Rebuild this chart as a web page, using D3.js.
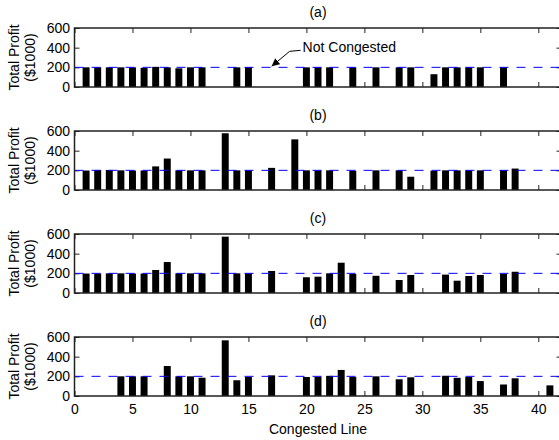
<!DOCTYPE html>
<html>
<head>
<meta charset="utf-8">
<script src="https://cdn.jsdelivr.net/npm/d3@7"></script>
<style>
  body { margin: 0; background: #fff; }
  svg text { font-family: "Liberation Sans", Arial, sans-serif; }
</style>
</head>
<body>
<div id="chart"></div>
<script>
// Congested line index -> total profit ($1000) for each scenario
const panelNames = ["(a)", "(b)", "(c)", "(d)"];

const linesA = [1, 2, 3, 4, 5, 6, 7, 8, 9, 10, 11, 14, 15, 20, 21, 22, 24, 26, 28, 29, 31, 32, 33, 34, 35, 37];
const profitA = [200, 200, 200, 200, 200, 195, 205, 200, 190, 200, 200, 200, 200, 200, 200, 200, 200, 200, 200, 200, 130, 200, 200, 200, 200, 200];

const linesB = [1, 2, 3, 4, 5, 6, 7, 8, 9, 10, 11, 13, 14, 15, 17, 19, 20, 21, 22, 24, 26, 28, 29, 31, 32, 33, 34, 35, 37, 38];
const profitB = [198, 204, 204, 200, 198, 198, 240, 320, 200, 200, 200, 577, 200, 200, 225, 515, 200, 200, 200, 195, 200, 200, 135, 195, 200, 200, 200, 200, 200, 218];

const linesC = [1, 2, 3, 4, 5, 6, 7, 8, 9, 10, 11, 13, 14, 15, 17, 20, 21, 22, 23, 24, 26, 28, 29, 32, 33, 34, 35, 37, 38];
const profitC = [198, 198, 200, 200, 198, 198, 234, 315, 200, 200, 200, 573, 200, 200, 224, 160, 166, 200, 308, 193, 175, 132, 183, 187, 125, 173, 183, 193, 216];

const linesD = [4, 5, 6, 8, 9, 10, 11, 13, 14, 15, 17, 20, 21, 22, 23, 24, 26, 28, 29, 32, 33, 34, 35, 37, 38, 41];
const profitD = [200, 200, 200, 305, 200, 200, 186, 566, 160, 193, 210, 193, 195, 205, 265, 193, 200, 170, 190, 206, 185, 193, 152, 117, 180, 108];

const baseProfit = 200;          // not-congested reference level
const xTicks = [0, 5, 10, 15, 20, 25, 30, 35, 40];
const yTicks = [0, 200, 400, 600];

const panels = [
    { name: panelNames[0], lines: linesA, profit: profitA },
    { name: panelNames[1], lines: linesB, profit: profitB },
    { name: panelNames[2], lines: linesC, profit: profitC },
    { name: panelNames[3], lines: linesD, profit: profitD }
];

const W = 559, H = 440;
const left = 74.5, right = 561.5;
const panelTop = 28, panelH = 59, panelStep = 103;
const fontSize = 14;

const svg = d3.select("#chart").append("svg")
    .attr("width", W)
    .attr("height", H);

const x = d3.scaleLinear().domain([0, 42]).range([left, right]);
const barW = (x(1) - x(0)) * 0.6;

panels.forEach((p, i) => {
    const top = panelTop + i * panelStep;
    const bottom = top + panelH;
    const y = d3.scaleLinear().domain([0, 600]).range([bottom, top]);
    const g = svg.append("g");
    const isLast = i === panels.length - 1;

    // ticks (inward, drawn under the bars)
    const bx = g.append("g")
        .attr("transform", `translate(0,${bottom})`)
        .call(d3.axisBottom(x).tickValues(xTicks).tickSizeInner(-5).tickSizeOuter(0)
            .tickPadding(8).tickFormat(isLast ? d3.format("d") : () => ""));
    g.append("g")
        .attr("transform", `translate(0,${top})`)
        .call(d3.axisTop(x).tickValues(xTicks).tickSizeInner(-5).tickSizeOuter(0).tickFormat(() => ""));
    g.append("g")
        .attr("transform", `translate(${left},0)`)
        .call(d3.axisLeft(y).tickValues(yTicks).tickSizeInner(-5).tickSizeOuter(0).tickPadding(4.5));
    g.append("g")
        .attr("transform", `translate(${right},0)`)
        .call(d3.axisRight(y).tickValues(yTicks).tickSizeInner(-5).tickSizeOuter(0).tickFormat(() => ""));

    g.selectAll(".domain").remove();
    g.selectAll(".tick line").attr("stroke", "#222").attr("stroke-width", 1);
    g.selectAll(".tick text")
        .attr("fill", "#000")
        .style("font-size", fontSize + "px");

    // bars
    const data = p.lines.map((l, k) => ({ line: l, profit: p.profit[k] }));
    g.selectAll(".bar")
        .data(data)
        .enter().append("rect")
        .attr("class", "bar")
        .attr("x", d => x(d.line) - barW / 2)
        .attr("y", d => y(d.profit))
        .attr("width", barW)
        .attr("height", d => bottom - y(d.profit))
        .attr("fill", "#000");

    // not-congested reference level
    g.append("line")
        .attr("x1", x(0))
        .attr("x2", x(42))
        .attr("y1", y(baseProfit))
        .attr("y2", y(baseProfit))
        .attr("stroke", "#0000ff")
        .attr("stroke-width", 1)
        .attr("stroke-dasharray", "9,8");

    // axes box
    g.append("rect")
        .attr("x", left)
        .attr("y", top)
        .attr("width", right - left)
        .attr("height", bottom - top)
        .attr("fill", "none")
        .attr("stroke", "#222")
        .attr("stroke-width", 1.5);

    // panel title
    g.append("text")
        .attr("x", (left + right) / 2)
        .attr("y", top - 11)
        .attr("text-anchor", "middle")
        .style("font-size", fontSize + "px")
        .text(p.name);

    // y label, two lines
    const cy = (top + bottom) / 2;
    g.append("text")
        .attr("transform", `translate(19,${cy}) rotate(-90)`)
        .attr("text-anchor", "middle")
        .style("font-size", fontSize + "px")
        .text("Total Profit");
    g.append("text")
        .attr("transform", `translate(35,${cy}) rotate(-90)`)
        .attr("text-anchor", "middle")
        .style("font-size", fontSize + "px")
        .text("($1000)");

    if (i === 0) {
        // annotation pointing at line 17
        const tipX = x(17), tipY = y(baseProfit) - 1;
        svg.append("defs").append("marker")
            .attr("id", "arrow")
            .attr("viewBox", "0 0 10 10")
            .attr("refX", 10).attr("refY", 5)
            .attr("markerWidth", 8).attr("markerHeight", 8)
            .attr("markerUnits", "userSpaceOnUse")
            .attr("orient", "auto")
            .append("path")
            .attr("d", "M0,0 L10,5 L0,10 z")
            .attr("fill", "#000");
        g.append("path")
            .attr("d", `M${tipX + 29},${tipY - 16} L${tipX + 18},${tipY - 15} L${tipX},${tipY}`)
            .attr("fill", "none")
            .attr("stroke", "#000")
            .attr("stroke-width", 1)
            .attr("marker-end", "url(#arrow)");
        g.append("text")
            .attr("x", tipX + 31)
            .attr("y", tipY - 14)
            .style("font-size", fontSize + "px")
            .text("Not Congested");
    }
});

// x axis label
svg.append("text")
    .attr("x", (left + right) / 2)
    .attr("y", 434)
    .attr("text-anchor", "middle")
    .style("font-size", fontSize + "px")
    .text("Congested Line");
</script>
</body>
</html>
